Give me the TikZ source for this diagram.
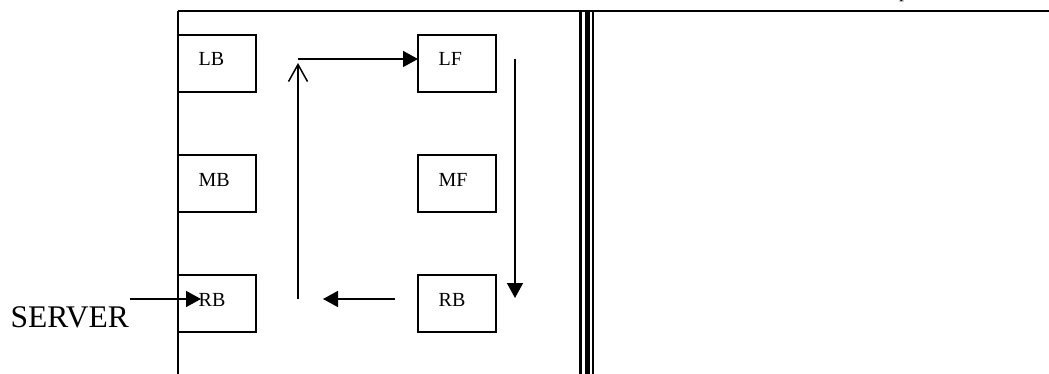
\documentclass[tikz,border=0pt]{standalone}
\usepackage{fontspec}
\setmainfont{Liberation Serif}
\usetikzlibrary{arrows.meta,calc}
\tikzset{
  box/.style={draw=black,line width=1.3pt,minimum width=78pt,minimum height=57pt,inner sep=0pt,outer sep=0pt},
  lbl/.style={anchor=base west,inner sep=0pt,font=\fontsize{20}{24}\selectfont},
  frame/.style={line width=2pt},
  conn/.style={line width=1.5pt},
  filledhead/.style={conn,-{Triangle[length=15pt,width=16pt]}},
  openhead/.style={conn,-{Straight Barb[length=17pt,width=19pt,line width=1.5pt]}},
}
\begin{document}
\begin{tikzpicture}[x=1pt,y=-1pt]
\useasboundingbox (0,0) rectangle (1049,374);
\begin{scope}
\clip (0,0) rectangle (1049,374);
% cut-off text fragment at the top
\node[anchor=base west,inner sep=0pt,font=\fontsize{20}{24}\selectfont] (pfrag) at (899,-2.5) {p};
% frame
\coordinate (tl) at (178,11);
\coordinate (tr) at (1049,11);
\coordinate (bl) at (178,374);
\draw[frame] (tl) -- (tr);
\draw[frame] (tl) -- (bl);
% triple divider
\coordinate (d1t) at (580,11);   \coordinate (d1b) at (580,374);
\coordinate (d2t) at (587,11);   \coordinate (d2b) at (587,374);
\coordinate (d3t) at (593,11);   \coordinate (d3b) at (593,374);
\draw[line width=3pt] (d1t) -- (d1b);
\draw[line width=5pt] (d2t) -- (d2b);
\draw[line width=2.5pt] (d3t) -- (d3b);
\end{scope}
% boxes
\node[box] (LB) at (217,63.5) {};
\node[box] (LF) at (457,63.5) {};
\node[box] (MB) at (217,183.5) {};
\node[box] (MF) at (457,183.5) {};
\node[box] (RBl) at (217,303.5) {};
\node[box] (RBr) at (457,303.5) {};
% labels
\node[lbl] (tLB) at ($(LB.north west)+(20.5,31)$) {LB};
\node[lbl] (tLF) at ($(LF.north west)+(20.5,31)$) {LF};
\node[lbl] (tMB) at ($(MB.north west)+(20.5,31)$) {MB};
\node[lbl] (tMF) at ($(MF.north west)+(20.5,31)$) {MF};
\node[lbl] (tRBl) at ($(RBl.north west)+(20.5,31)$) {RB};
\node[lbl] (tRBr) at ($(RBr.north west)+(20.5,31)$) {RB};
\node[anchor=base west,inner sep=0pt,font=\fontsize{31.5}{36}\selectfont] (server) at (10.5,327) {SERVER};
% connector end points
\coordinate (sv) at (130,299);
\coordinate (svtip) at (201,299);
\coordinate (upb) at (298,299);
\coordinate (upt) at (298,63);
\coordinate (topl) at (298,59);
\coordinate (dnt) at (515,59);
\coordinate (dnb) at (515,298);
\coordinate (lfs) at (395,299);
\coordinate (lft) at (323,299);
% connectors
\draw[filledhead] (sv) -- (svtip);
\draw[openhead] (upb) -- (upt);
\draw[filledhead] (topl) -- (topl -| LF.west);
\draw[filledhead] (dnt) -- (dnb);
\draw[filledhead] (lfs) -- (lft);
\end{tikzpicture}
\end{document}
